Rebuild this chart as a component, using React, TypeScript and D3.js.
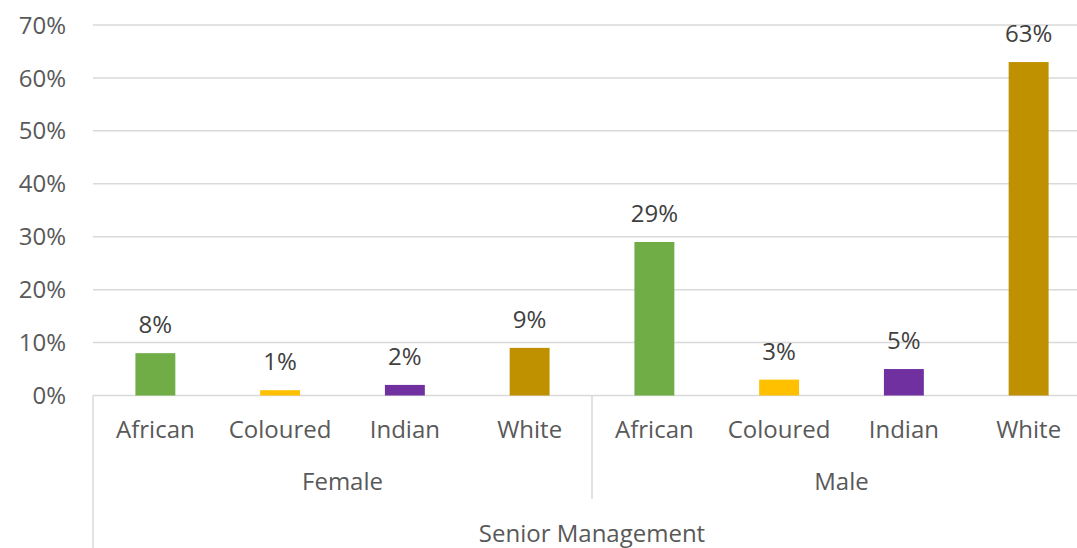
import React from "react";
import * as d3 from "d3";

const races = ["African", "Coloured", "Indian", "White"];
const genders = ["Female", "Male"];
const groupLabel = "Senior Management";
const femaleValues = [8, 1, 2, 9];
const maleValues = [29, 3, 5, 63];
const raceColors = ["#70AD47", "#FFC000", "#7030A0", "#BF9000"];
const yTicks = [0, 10, 20, 30, 40, 50, 60, 70];

const W = 1077;
const H = 548;
const FONT = "'Open Sans', 'Noto Sans', sans-serif";

export default function App() {
  const rows = genders.flatMap((g, gi) =>
    races.map((r, ri) => ({
      key: `${g}-${r}`,
      gender: g,
      race: r,
      ri,
      value: gi === 0 ? femaleValues[ri] : maleValues[ri],
    }))
  );
  const left = 93;
  const right = 1091;
  const x = d3
    .scaleBand<string>()
    .domain(rows.map((d) => d.key))
    .range([left, right])
    .paddingInner(0.68)
    .paddingOuter(0.34);
  const step = x.step();
  const y = d3.scaleLinear().domain([0, 70]).range([395.5, 25]);
  const fs = 24;

  return (
    <svg
      width={W}
      height={H}
      style={{ position: "absolute", left: 0, top: 0, background: "#fff" }}
      fontFamily={FONT}
    >
      <rect x={0} y={0} width={W} height={H} fill="#fff" />
      {yTicks.map((t) => (
        <g key={t}>
          <line
            x1={left}
            x2={right}
            y1={y(t)}
            y2={y(t)}
            stroke="#d9d9d9"
            strokeWidth={1.5}
          />
          <text
            x={66}
            y={y(t)}
            dy="0.36em"
            textAnchor="end"
            fontSize={fs}
            fill="#595959"
          >
            {t}%
          </text>
        </g>
      ))}
      {rows.map((d) => (
        <g key={d.key}>
          <rect
            x={x(d.key)}
            y={y(d.value)}
            width={x.bandwidth()}
            height={y(0) - y(d.value)}
            fill={raceColors[d.ri]}
          />
          <text
            x={(x(d.key) as number) + x.bandwidth() / 2}
            y={y(d.value) - 20}
            textAnchor="middle"
            fontSize={fs}
            fill="#404040"
          >
            {d.value}%
          </text>
          <text
            x={(x(d.key) as number) + x.bandwidth() / 2}
            y={438}
            textAnchor="middle"
            fontSize={fs}
            fill="#595959"
          >
            {d.race}
          </text>
        </g>
      ))}
      <line x1={left} x2={left} y1={y(0)} y2={H} stroke="#d9d9d9" strokeWidth={1.5} />
      <line
        x1={left + step * 4}
        x2={left + step * 4}
        y1={y(0)}
        y2={499}
        stroke="#d9d9d9"
        strokeWidth={1.5}
      />
      <line x1={right} x2={right} y1={y(0)} y2={H} stroke="#d9d9d9" strokeWidth={1.5} />
      {genders.map((g, gi) => (
        <text
          key={g}
          x={left + step * (gi * 4 + 2)}
          y={490}
          textAnchor="middle"
          fontSize={fs}
          fill="#595959"
        >
          {g}
        </text>
      ))}
      <text
        x={(left + right) / 2}
        y={542}
        textAnchor="middle"
        fontSize={fs}
        fill="#595959"
      >
        {groupLabel}
      </text>
    </svg>
  );
}
